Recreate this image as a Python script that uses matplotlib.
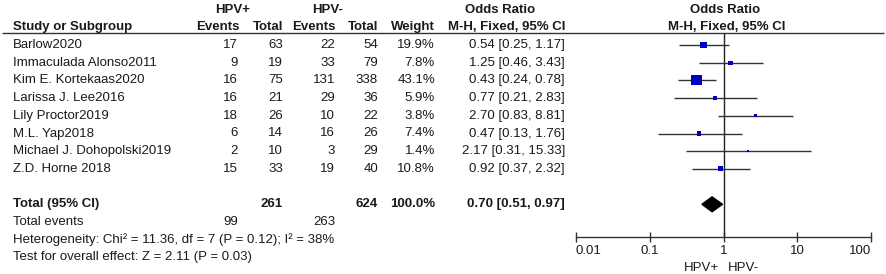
import matplotlib
matplotlib.use("Agg")
import matplotlib.pyplot as plt
import numpy as np

plt.rcParams['font.family'] = ['Liberation Sans', 'DejaVu Sans']

studies = ["Barlow2020", "Immaculada Alonso2011", "Kim E. Kortekaas2020", "Larissa J. Lee2016",
           "Lily Proctor2019", "M.L. Yap2018", "Michael J. Dohopolski2019", "Z.D. Horne 2018"]
pos_events = [17, 9, 16, 16, 18, 6, 2, 15]
pos_total = [63, 19, 75, 21, 26, 14, 10, 33]
neg_events = [22, 33, 131, 29, 10, 16, 3, 19]
neg_total = [54, 79, 338, 36, 22, 26, 29, 40]
weights = [19.9, 7.8, 43.1, 5.9, 3.8, 7.4, 1.4, 10.8]
or_est = [0.54, 1.25, 0.43, 0.77, 2.70, 0.47, 2.17, 0.92]
or_lo = [0.25, 0.46, 0.24, 0.21, 0.83, 0.13, 0.31, 0.37]
or_hi = [1.17, 3.43, 0.78, 2.83, 8.81, 1.76, 15.33, 2.32]
total_pos, total_neg = 261, 624
total_ev_pos, total_ev_neg = 99, 263
pooled = (0.70, 0.51, 0.97)
tick_vals = [0.01, 0.1, 1, 10, 100]
tick_labels = ["0.01", "0.1", "1", "10", "100"]

W, H = 886, 274
fig = plt.figure(figsize=(W / 100, H / 100), dpi=100)

# row coordinate system: pixel = y0 + dy * row
y0, dy = 45.0, 17.7
ytop = -y0 / dy
ybot = (H - y0) / dy

tab = fig.add_axes([0, 0, 1, 1])
tab.set_xlim(0, W)
tab.set_ylim(ybot, ytop)
tab.axis('off')

fs = 9.5
tc = '#1a1a1a'

def t(x, y, s, ha='left', bold=False):
    tab.text(x, y, s, ha=ha, va='center', fontsize=fs, color=tc,
             fontweight='bold' if bold else 'normal')

# headers
hy1, hy2 = -1.97, -1.0
t(233, hy1, "HPV+", ha='center', bold=True)
t(328, hy1, "HPV-", ha='center', bold=True)
t(500, hy1, "Odds Ratio", ha='center', bold=True)
t(725, hy1, "Odds Ratio", ha='center', bold=True)
t(13, hy2, "Study or Subgroup", bold=True)
t(240, hy2, "Events", ha='right', bold=True)
t(283, hy2, "Total", ha='right', bold=True)
t(336, hy2, "Events", ha='right', bold=True)
t(378, hy2, "Total", ha='right', bold=True)
t(435, hy2, "Weight", ha='right', bold=True)
t(565, hy2, "M-H, Fixed, 95% CI", ha='right', bold=True)
t(727, hy2, "M-H, Fixed, 95% CI", ha='center', bold=True)
tab.hlines(-0.68, 2, 884, color='#333333', lw=1.0)

for i, s in enumerate(studies):
    t(13, i, s)
    t(238, i, str(pos_events[i]), ha='right')
    t(283, i, str(pos_total[i]), ha='right')
    t(335, i, str(neg_events[i]), ha='right')
    t(378, i, str(neg_total[i]), ha='right')
    t(435, i, f"{weights[i]:.1f}%", ha='right')
    t(565, i, f"{or_est[i]:.2f} [{or_lo[i]:.2f}, {or_hi[i]:.2f}]", ha='right')

ty = len(studies) + 1
t(13, ty, "Total (95% CI)", bold=True)
t(283, ty, str(total_pos), ha='right', bold=True)
t(378, ty, str(total_neg), ha='right', bold=True)
t(435, ty, "100.0%", ha='right', bold=True)
t(565, ty, f"{pooled[0]:.2f} [{pooled[1]:.2f}, {pooled[2]:.2f}]", ha='right', bold=True)
t(13, ty + 1, "Total events")
t(238, ty + 1, str(total_ev_pos), ha='right')
t(335, ty + 1, str(total_ev_neg), ha='right')
t(13, ty + 2, "Heterogeneity: Chi² = 11.36, df = 7 (P = 0.12); I² = 38%")
t(13, ty + 3, "Test for overall effect: Z = 2.11 (P = 0.03)")

# forest axes
fx0, fx1 = 576, 871
fa = fig.add_axes([fx0 / W, 0, (fx1 - fx0) / W, 1])
fa.set_xscale('log')
fa.set_xlim(0.01, 100)
fa.set_ylim(ybot, ytop)
fa.patch.set_alpha(0)
for sp in ['top', 'right', 'left']:
    fa.spines[sp].set_visible(False)
axis_y = 10.85
fa.spines['bottom'].set_position(('data', axis_y))
fa.spines['bottom'].set_color('#333333')
fa.spines['bottom'].set_linewidth(1.0)
fa.set_yticks([])
fa.set_xticks(tick_vals)
fa.set_xticklabels(tick_labels)
fa.xaxis.set_minor_locator(matplotlib.ticker.NullLocator())
fa.tick_params(axis='x', direction='inout', length=7, width=1.0, color='#333333',
               labelsize=fs, labelcolor=tc, pad=2)
lbls = fa.get_xticklabels()
lbls[0].set_ha('left')
lbls[-1].set_ha('right')

fa.vlines(1, -0.68, axis_y, color='#222222', lw=1.0)
rows = np.arange(len(studies))
fa.hlines(rows, or_lo, or_hi, color='#333333', lw=1.0)
fa.scatter(or_est, rows, marker='s', s=np.array(weights) * 1.25, color='#0000c0',
           edgecolors='none', zorder=3)
est, lo, hi = pooled
fa.fill([lo, est, hi, est], [ty, ty - 0.42, ty, ty + 0.42], color='black', zorder=3)

fa.text(0.88, 12.6, "HPV+", ha='right', va='center', fontsize=fs, color=tc)
fa.text(1.15, 12.6, "HPV-", ha='left', va='center', fontsize=fs, color=tc)

fig.savefig("out.png", dpi=100)
